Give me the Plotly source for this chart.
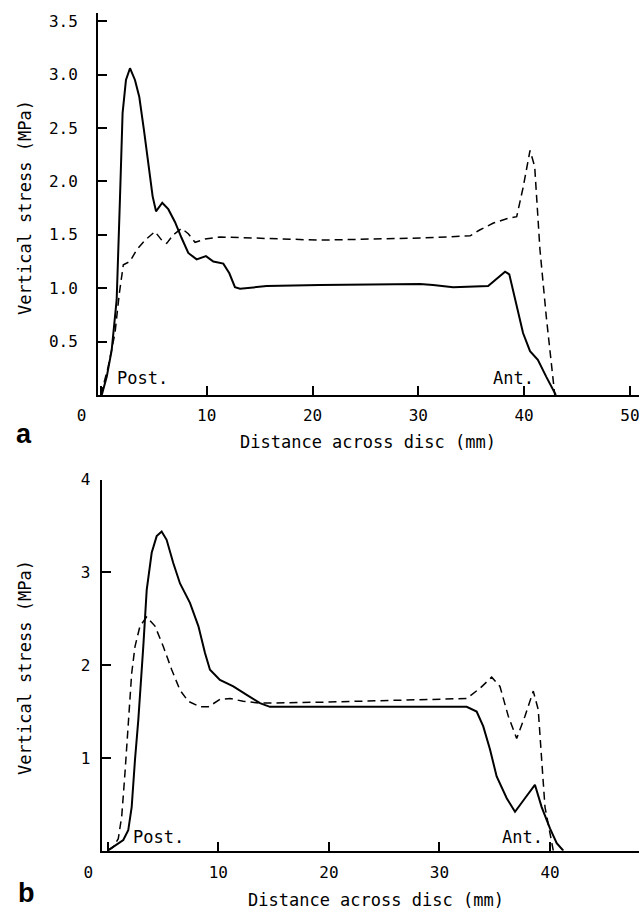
import plotly.graph_objects as go

# ---- Panel a data (distance mm, stress MPa) ----
a_solid_x = [0.08, 0.55, 1.02, 1.49, 1.8, 2.05, 2.37, 2.75, 3.22, 3.63, 4.07, 4.48, 4.89, 5.21, 5.8, 6.37,
             7.0, 7.63, 8.26, 9.05, 9.93, 10.63, 11.57, 12.14, 12.67, 13.15, 15.67, 20.7, 30.16, 31.4, 33.3,
             36.6, 37.4, 38.2, 38.6, 39.3, 39.9, 40.56, 41.3, 42.1, 43.0]
a_solid_y = [0.0, 0.17, 0.42, 0.89, 1.83, 2.64, 2.95, 3.06, 2.95, 2.79, 2.48, 2.17, 1.86, 1.72, 1.80, 1.74,
             1.62, 1.47, 1.33, 1.27, 1.30, 1.25, 1.23, 1.14, 1.01, 0.995, 1.02, 1.03, 1.04, 1.03, 1.01,
             1.02, 1.09, 1.155, 1.13, 0.83, 0.58, 0.41, 0.33, 0.17, 0.0]
a_dash_x = [0.0, 0.7, 1.33, 1.74, 2.12, 2.75, 3.38, 4.17, 5.11, 5.75, 6.22, 6.84, 7.63, 8.26, 8.9, 9.84,
            11.26, 20.7, 30.2, 34.9, 35.8, 37.1, 38.35, 39.3, 39.9, 40.56, 41.0, 41.5, 42.1, 42.9]
a_dash_y = [0.0, 0.27, 0.58, 0.95, 1.22, 1.25, 1.36, 1.45, 1.53, 1.45, 1.42, 1.50, 1.56, 1.51, 1.43, 1.46,
            1.48, 1.45, 1.47, 1.49, 1.545, 1.61, 1.65, 1.67, 1.94, 2.29, 2.14, 1.36, 0.73, 0.0]

# ---- Panel b data ----
b_solid_x = [0.0, 0.51, 1.41, 1.86, 2.17, 2.47, 2.77, 3.22, 3.53, 3.98, 4.43, 4.88, 5.33, 5.93, 6.54, 7.44,
             8.2, 8.8, 9.25, 10.15, 11.36, 12.57, 13.77, 14.67, 19.2, 32.46, 33.36, 33.96, 34.57, 35.17,
             36.08, 36.83, 37.73, 38.63, 39.24, 39.99, 40.6, 41.2]
b_solid_y = [0.0, 0.04, 0.115, 0.22, 0.47, 0.98, 1.41, 2.2, 2.81, 3.21, 3.39, 3.44, 3.35, 3.1, 2.88, 2.67,
             2.42, 2.13, 1.95, 1.84, 1.77, 1.68, 1.59, 1.55, 1.55, 1.55, 1.50, 1.34, 1.09, 0.80,
             0.565, 0.42, 0.565, 0.71, 0.47, 0.24, 0.08, 0.0]
b_dash_x = [0.0, 0.51, 0.96, 1.27, 1.56, 1.86, 2.17, 2.47, 2.92, 3.53, 4.28, 5.03, 5.79, 6.54, 7.29, 8.35,
            9.1, 10.15, 11.06, 12.26, 13.77, 19.2, 29.44, 32.46, 33.66, 34.72, 35.47, 36.22, 36.98, 37.73,
            38.48, 38.93, 39.24, 39.54, 39.99, 40.29]
b_dash_y = [0.0, 0.04, 0.13, 0.37, 0.83, 1.41, 1.91, 2.2, 2.42, 2.52, 2.42, 2.2, 1.95, 1.73, 1.61, 1.55,
            1.55, 1.63, 1.64, 1.61, 1.59, 1.60, 1.63, 1.64, 1.75, 1.87, 1.77, 1.45, 1.21, 1.45,
            1.72, 1.52, 0.98, 0.47, 0.19, 0.0]

# ---- tick labels ----
a_xtick_vals = [0, 10, 20, 30, 40, 50]
a_xtick_text = ["0\u00a0\u00a0\u00a0\u00a0", "10", "20", "30", "40", "50"]
a_ytick_vals = [0.5, 1.0, 1.5, 2.0, 2.5, 3.0, 3.5]
a_ytick_text = ["0.5", "1.0", "1.5", "2.0", "2.5", "3.0", "3.5"]
b_xtick_vals = [0, 10, 20, 30, 40]
b_xtick_text = ["0\u00a0\u00a0\u00a0\u00a0", "10", "20", "30", "40"]
b_ytick_vals = [1, 2, 3, 4]
b_ytick_text = ["1", "2", "3", "4"]

W, H = 639, 910
MONO = "DejaVu Sans Mono"
TICKFONT = dict(family=MONO, size=16, color="black")
TITLEFONT = dict(family=MONO, size=17, color="black")

fig = go.Figure()
fig.add_trace(go.Scatter(x=a_solid_x, y=a_solid_y, mode="lines", line=dict(color="black", width=2),
                         xaxis="x", yaxis="y", showlegend=False))
fig.add_trace(go.Scatter(x=a_dash_x, y=a_dash_y, mode="lines",
                         line=dict(color="black", width=1.5, dash="8px,5px"),
                         xaxis="x", yaxis="y", showlegend=False))
fig.add_trace(go.Scatter(x=b_solid_x, y=b_solid_y, mode="lines", line=dict(color="black", width=2),
                         xaxis="x2", yaxis="y2", showlegend=False))
fig.add_trace(go.Scatter(x=b_dash_x, y=b_dash_y, mode="lines",
                         line=dict(color="black", width=1.5, dash="8px,5px"),
                         xaxis="x2", yaxis="y2", showlegend=False))

axis_common = dict(showgrid=False, zeroline=False, showline=True, linecolor="black", linewidth=2,
                   ticks="inside", tickcolor="black", tickwidth=1.5, ticklen=9, tickfont=TICKFONT,
                   tickmode="array", automargin=False, ticklabeloverflow="allow")

fig.update_layout(
    template="none",
    width=W, height=H, margin=dict(l=0, r=0, t=0, b=0, autoexpand=False),
    paper_bgcolor="white", plot_bgcolor="white",
    xaxis=dict(domain=[98 / W, 1.0], range=[-0.274, 50.86], anchor="y",
               tickvals=a_xtick_vals, ticktext=a_xtick_text, ticklabelstandoff=5, **axis_common),
    yaxis=dict(domain=[1 - 395 / H, 1 - 13 / H], range=[0, 3.577], anchor="x",
               tickvals=a_ytick_vals, ticktext=a_ytick_text, ticklabelstandoff=15, **axis_common),
    xaxis2=dict(domain=[101.7 / W, 1.0], range=[-0.54, 48.04], anchor="y2",
                tickvals=b_xtick_vals, ticktext=b_xtick_text, ticklabelstandoff=6, **axis_common),
    yaxis2=dict(domain=[1 - 850.7 / H, 1 - 479.5 / H], range=[0, 4.0], anchor="x2",
                tickvals=b_ytick_vals, ticktext=b_ytick_text, ticklabelstandoff=6, **axis_common),
)

ann = []
# axis titles
ann.append(dict(text="Distance across disc (mm)", x=367.5 / W, y=1 - 442 / H, xref="paper", yref="paper",
                showarrow=False, font=TITLEFONT, xanchor="center", yanchor="middle"))
ann.append(dict(text="Vertical stress (MPa)", x=25 / W, y=1 - 208 / H, xref="paper", yref="paper",
                showarrow=False, font=TITLEFONT, textangle=-90, xanchor="center", yanchor="middle"))
ann.append(dict(text="Distance across disc (mm)", x=376.5 / W, y=1 - 900 / H, xref="paper", yref="paper",
                showarrow=False, font=TITLEFONT, xanchor="center", yanchor="middle"))
ann.append(dict(text="Vertical stress (MPa)", x=25 / W, y=1 - 668 / H, xref="paper", yref="paper",
                showarrow=False, font=TITLEFONT, textangle=-90, xanchor="center", yanchor="middle"))
# panel letters
ann.append(dict(text="<b>a</b>", x=24 / W, y=1 - 434 / H, xref="paper", yref="paper", showarrow=False,
                font=dict(family="Liberation Sans", size=27, color="black"), xanchor="center", yanchor="middle"))
ann.append(dict(text="<b>b</b>", x=26 / W, y=1 - 893 / H, xref="paper", yref="paper", showarrow=False,
                font=dict(family="Liberation Sans", size=27, color="black"), xanchor="center", yanchor="middle"))
# Post./Ant. labels
ann.append(dict(text="Post.", x=3.9, y=0.16, xref="x", yref="y", showarrow=False, font=TITLEFONT))
ann.append(dict(text="Ant.", x=39.0, y=0.16, xref="x", yref="y", showarrow=False, font=TITLEFONT))
ann.append(dict(text="Post.", x=4.55, y=0.15, xref="x2", yref="y2", showarrow=False, font=TITLEFONT))
ann.append(dict(text="Ant.", x=37.5, y=0.15, xref="x2", yref="y2", showarrow=False, font=TITLEFONT))
fig.update_layout(annotations=ann)

fig.write_html("out.html")
